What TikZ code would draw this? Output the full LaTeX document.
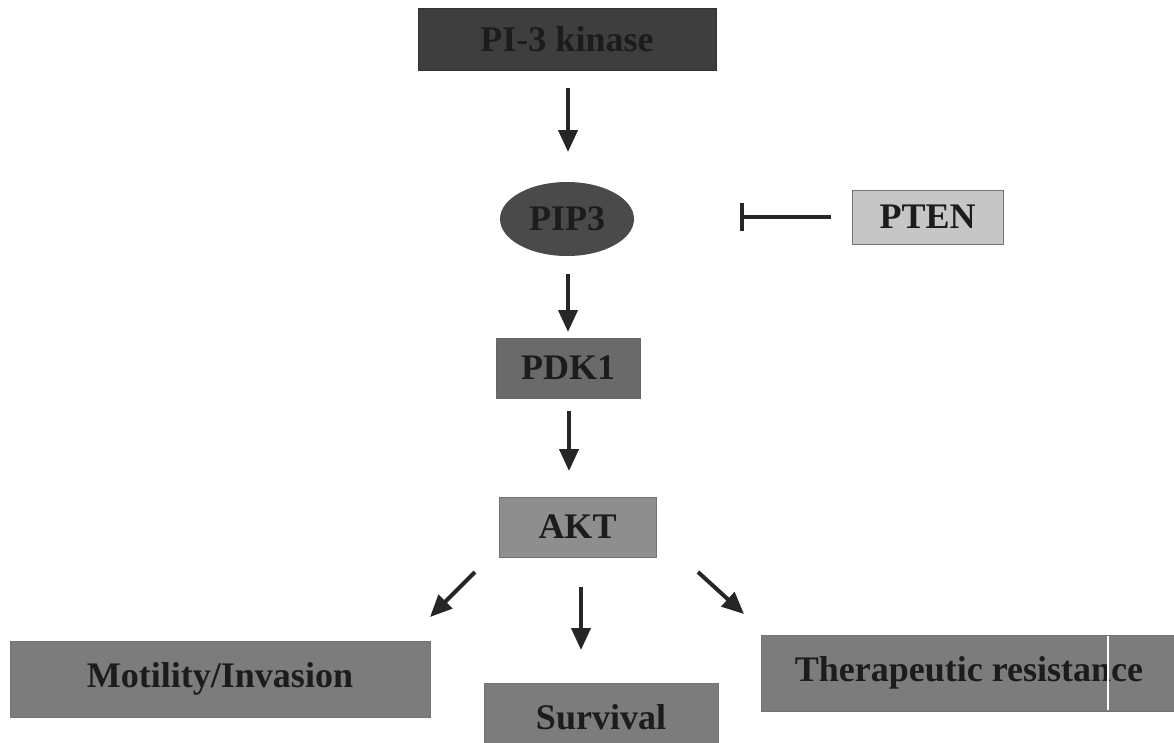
\documentclass[tikz,border=0pt]{standalone}
\usepackage{fontspec}
\setmainfont{Liberation Serif}
\usetikzlibrary{arrows.meta,shapes.geometric}
\definecolor{txt}{HTML}{1C1C1C}
\definecolor{arr}{HTML}{262626}
\definecolor{cPIK}{HTML}{3E3E3E}
\definecolor{cPIP}{HTML}{4A4A4A}
\definecolor{cPTEN}{HTML}{C6C6C6}
\definecolor{cPDK}{HTML}{6A6A6A}
\definecolor{cAKT}{HTML}{8E8E8E}
\definecolor{cOUT}{HTML}{7C7C7C}
\tikzset{
  lbl/.style={font=\fontsize{36}{40}\selectfont\bfseries, text=txt, inner sep=0pt},
  act/.style={draw=arr, line width=4pt, -{Triangle[length=22pt,width=19pt]}},
  inh/.style={draw=arr, line width=4pt, -{Bar[width=28pt,line width=4pt]}}
}
\begin{document}
\begin{tikzpicture}[x=1pt,y=-1pt]
\fill[white] (0,0) rectangle (1174,742);
\useasboundingbox (0,0) rectangle (1174,742);
\begin{scope}
\clip (0,0) rectangle (1174,742);
% nodes
\node[lbl, fill=cPIK, draw=black!80, line width=0.8pt, minimum width=298pt, minimum height=62pt] (pik) at (567,39) {PI-3 kinase};
\node[lbl, ellipse, fill=cPIP, minimum width=134pt, minimum height=74pt] (pip) at (567,219) {PIP3};
\node[lbl, fill=cPTEN, draw=black!55, line width=0.8pt, minimum width=151pt, minimum height=54pt] (pten) at (927.5,217) {PTEN};
\node[lbl, fill=cPDK, draw=black!60, line width=0.8pt, minimum width=144pt, minimum height=60pt] (pdk) at (568,368) {PDK1};
\node[lbl, fill=cAKT, draw=black!55, line width=0.8pt, minimum width=157pt, minimum height=60pt] (akt) at (577.5,527) {AKT};
\node[lbl, fill=cOUT, draw=black!55, line width=0.8pt, minimum width=420pt, minimum height=76pt] (mot) at (220,679) {Motility/Invasion};
\node[lbl, fill=cOUT, draw=black!55, line width=0.8pt, minimum width=234pt, minimum height=70pt, text depth=0pt] (sur) at (601,718) {};
\node[lbl] (surt) at (601,717) {Survival};
\node[lbl, fill=cOUT, draw=black!55, line width=0.8pt, minimum width=416pt, minimum height=76pt] (ther) at (969,673) {Therapeutic resistance};
\draw[white, line width=1.2pt] (1108,636) -- (1108,710);
% connector end points
\coordinate (k1) at (568,88);  \coordinate (k2) at (568,152);
\coordinate (p1) at (568,274); \coordinate (p2) at (568,332);
\coordinate (d1) at (569,411); \coordinate (d2) at (569,471);
\coordinate (aL1) at (475,572); \coordinate (aL2) at (430,617);
\coordinate (aM1) at (581,587); \coordinate (aM2) at (581,650);
\coordinate (aR1) at (698,572); \coordinate (aR2) at (744,614);
\coordinate (t1) at (831,217); \coordinate (t2) at (740,217);
% connectors
\draw[act] (k1) -- (k2);
\draw[act] (p1) -- (p2);
\draw[act] (d1) -- (d2);
\draw[act] (aL1) -- (aL2);
\draw[act] (aM1) -- (aM2);
\draw[act] (aR1) -- (aR2);
\draw[inh] (t1) -- (t2);
\end{scope}
\end{tikzpicture}
\end{document}
